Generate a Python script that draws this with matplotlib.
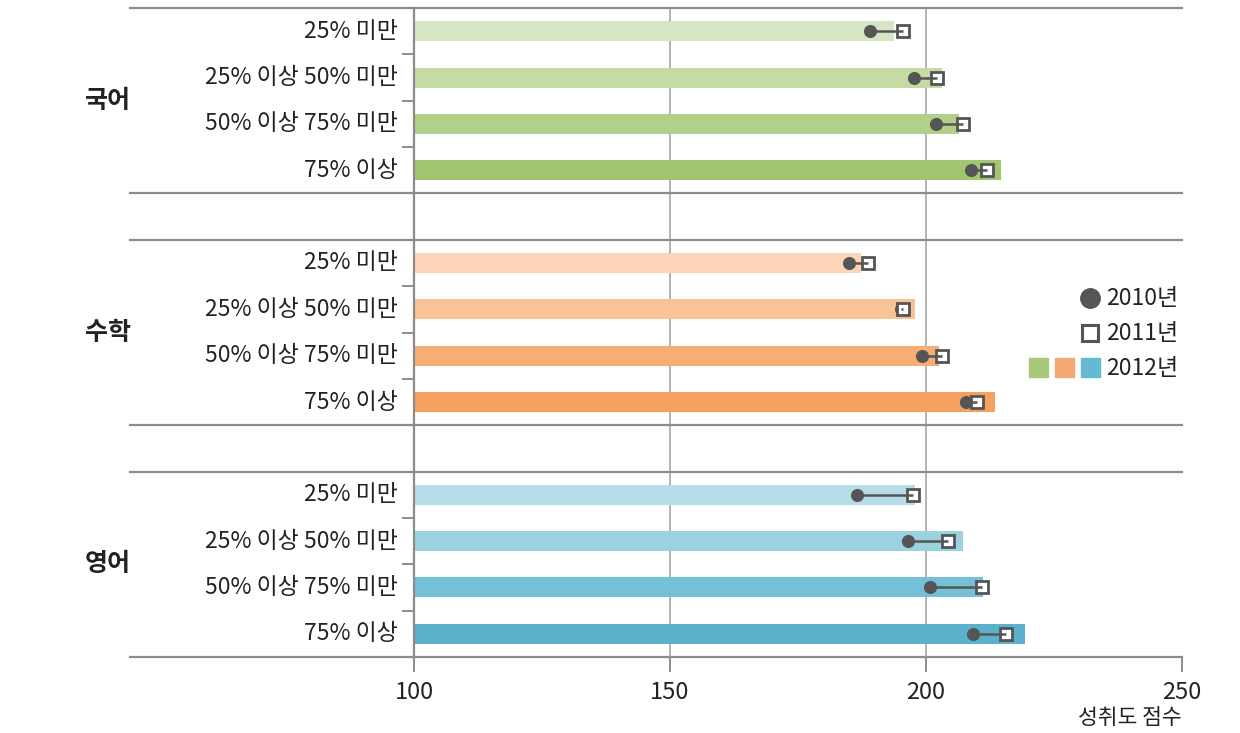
import matplotlib
matplotlib.use("Agg")
import matplotlib.pyplot as plt
from matplotlib.lines import Line2D
from matplotlib.patches import Rectangle

plt.rcParams['font.family'] = ['Noto Sans CJK KR', 'DejaVu Sans']

subjects = ['국어', '수학', '영어']
levels = ['25% 미만', '25% 이상 50% 미만', '50% 이상 75% 미만', '75% 이상']

score_2012 = [[193.7, 203.1, 206.4, 214.7],
              [187.4, 197.8, 202.5, 213.5],
              [197.8, 207.3, 211.2, 219.3]]
score_2010 = [[189.1, 197.7, 202.0, 208.7],
              [185.0, 195.1, 199.3, 207.9],
              [186.6, 196.4, 200.7, 209.2]]
score_2011 = [[195.6, 202.2, 207.3, 212.0],
              [188.7, 195.6, 203.2, 209.9],
              [197.5, 204.2, 210.9, 215.6]]

bar_colors = [['#d6e5c3', '#c5dba4', '#b2d08a', '#a2c56f'],
              ['#fcd5b8', '#f9c398', '#f7ad76', '#f5a05f'],
              ['#b7dee8', '#9ad2e0', '#74c0d6', '#5ab1cc']]
legend_colors = ['#a8c97c', '#f5a872', '#64b9d3']
legend_labels = ['2010년', '2011년', '2012년']
x_ticks = [100, 150, 200, 250]
x_label = '성취도 점수'

W, H = 1240, 733
fig = plt.figure(figsize=(W / 100, H / 100), dpi=100)
L, R, T, B = 414, 1182, 8, 657
ax = fig.add_axes([L / W, 1 - B / H, (R - L) / W, (B - T) / H])

axis_gray = '#8c8c8c'
dark = '#555555'
txt = '#222222'

for g in range(3):
    for r in range(4):
        y = g * 5 + r
        ax.barh(y, score_2012[g][r] - 100, left=100, height=0.43,
                color=bar_colors[g][r], zorder=2)
        x0, x1 = score_2010[g][r], score_2011[g][r]
        ax.plot([x0], [y], 'o', ms=8.4, color=dark, zorder=3)
        ax.plot([x1], [y], 's', ms=8.8, mfc='white', mec=dark, mew=2.0, zorder=4)
        ax.plot([x0, x1], [y, y], '-', color=dark, lw=1.8, zorder=5,
                solid_capstyle='butt')
        ax.text(-0.021, y, levels[r], transform=ax.get_yaxis_transform(),
                ha='right', va='center', fontsize=16.5, color=txt)
    ax.text((108 - L) / (R - L), g * 5 + 1.5, subjects[g],
            transform=ax.get_yaxis_transform(), ha='center', va='center',
            fontsize=18, fontweight='bold', color=txt)

ax.set_xlim(100, 250)
ax.set_ylim(13.5, -0.5)

for s in ['top', 'right', 'bottom']:
    ax.spines[s].set_visible(False)
ax.spines['left'].set_color(axis_gray)
ax.spines['left'].set_linewidth(1.6)

# vertical gridlines
for xv in [150, 200]:
    ax.axvline(xv, color='#b3b3b3', lw=1.4, zorder=1)

# horizontal separators spanning into the label area
xleft = (130 - L) / (R - L)
for yv in [-0.5, 3.5, 4.5, 8.5, 9.5, 13.5]:
    ax.plot([xleft, 1.0], [yv, yv], color=axis_gray, lw=1.6,
            transform=ax.get_yaxis_transform(), clip_on=False, zorder=6)

# small ticks between rows
minor = [g * 5 + r + 0.5 for g in range(3) for r in range(3)]
ax.set_yticks(minor)
ax.set_yticklabels([])
ax.tick_params(axis='y', length=9, width=1.4, color=axis_gray, direction='out')

ax.set_xticks(x_ticks)
ax.set_xticklabels([str(v) for v in x_ticks])
ax.tick_params(axis='x', length=11, width=1.4, color=axis_gray, direction='out',
               labelsize=17, labelcolor=txt, pad=6)
ax.text(1.0, -0.094, x_label, transform=ax.transAxes, ha='right', va='center',
        fontsize=15.5, color=txt)

# legend (manual)
def fx(x):
    return x / W

def fy(y):
    return 1 - y / H

fig.add_artist(Line2D([fx(1090)], [fy(298)], marker='o', ms=14, color=dark, ls=''))
fig.add_artist(Line2D([fx(1090)], [fy(333)], marker='s', ms=12, mfc='white',
                      mec=dark, mew=2.2, ls=''))
sq = 19
for i, c in enumerate(legend_colors):
    cx = 1038 + i * 26
    fig.add_artist(Rectangle((fx(cx - sq / 2), fy(368 + sq / 2)), sq / W, sq / H,
                             transform=fig.transFigure, color=c))
for lab, yy in zip(legend_labels, [298, 333, 368]):
    fig.text(fx(1106), fy(yy), lab, ha='left', va='center', fontsize=16.5, color=txt)

fig.savefig('out.png', dpi=100)
